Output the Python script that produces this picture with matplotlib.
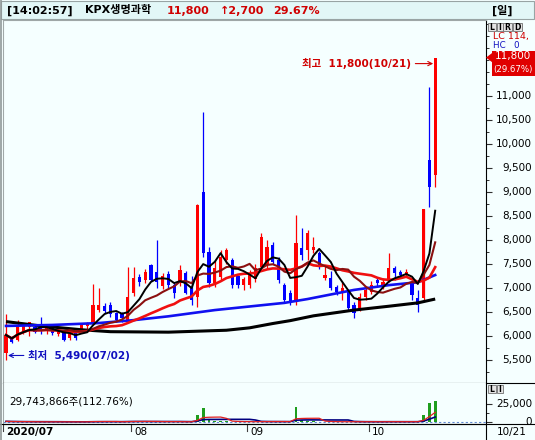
import numpy as np
import pandas as pd
import matplotlib
matplotlib.use("Agg")
import matplotlib.pyplot as plt
from matplotlib.patches import Rectangle, Polygon
from matplotlib.lines import Line2D
from matplotlib.transforms import offset_copy, blended_transform_factory

W, H = 535, 440   # 출력 크기 (px)

# ---------------------- 데이터 (일봉 2020/07/02 ~ 10/21) ----------------------
month_labels = ["2020/07", "08", "09", "10"]
month_start = [0, 22, 42, 63]          # 각 월 첫 거래일 인덱스
stock_name = "KPX생명과학"
clock = "[14:02:57]"
date_hi = "10/21"
date_lo = "07/02"
last_date = "10/21"

opens = [5650, 5960, 5920, 6090, 6190, 6190, 6200, 6100, 6190, 6040, 6090, 5950, 6080, 6120, 6200, 6270, 6550, 6620, 6650, 6470, 6470, 6330,
         6900, 7230, 7170, 7480, 7330, 7050, 7300, 7060, 7100, 7310, 7000, 6810, 9000, 7750, 7100, 7230, 7580, 7580, 7240, 7060,
         7060, 7180, 7440, 7480, 7900, 7580, 7060, 6890, 6720, 7830, 7790, 7790, 7730, 7210, 7210, 7030, 6920, 6920, 6650, 6580, 6820,
         6920, 7170, 7020, 7170, 7410, 7340, 7270, 7100, 6790, 6800, 9670, 9350]
highs = [6450, 6000, 6330, 6260, 6300, 6220, 6400, 6220, 6230, 6150, 6120, 6080, 6100, 6260, 6300, 7080, 7000, 6680, 6700, 6500, 6500, 7440,
         7430, 7300, 7400, 7500, 8000, 7310, 7350, 7100, 7480, 7350, 7250, 8750, 10670, 7850, 7580, 7790, 7830, 7620, 7260, 7220,
         7380, 7500, 8150, 8000, 7950, 7650, 7100, 6950, 8520, 8250, 8210, 8070, 7770, 7480, 7350, 7070, 7130, 6960, 6700, 6900, 7000,
         7150, 7230, 7200, 7730, 7450, 7380, 7400, 7150, 6960, 8650, 11190, 11800]
lows = [5490, 5850, 5900, 6050, 5990, 6060, 6040, 6050, 6030, 6000, 5890, 5920, 5920, 6100, 6150, 6230, 6500, 6480, 6400, 6300, 6300, 6300,
        6830, 7050, 7100, 7150, 7000, 6980, 7000, 6800, 7050, 6870, 6650, 6600, 7650, 7030, 7030, 7170, 7500, 7000, 7000, 6960,
        7000, 7120, 7400, 7420, 7500, 7100, 6680, 6650, 6650, 7580, 7580, 7720, 7400, 7170, 6960, 6850, 6750, 6540, 6370, 6520, 6750,
        6880, 7050, 6980, 7130, 7170, 7210, 7230, 6750, 6500, 6750, 8680, 9100]
closes = [6020, 5880, 6190, 6230, 6300, 6090, 6120, 6170, 6060, 6100, 5920, 6050, 5950, 6230, 6240, 6650, 6650, 6520, 6450, 6330, 6370, 6810,
          7200, 7130, 7330, 7170, 7130, 7250, 7060, 6900, 7380, 6900, 6750, 8730, 7730, 7100, 7420, 7650, 7800, 7060, 7060, 7180,
          7300, 7410, 8070, 7860, 7550, 7170, 6750, 6720, 7940, 7690, 8140, 7860, 7440, 7270, 7000, 6920, 6990, 6580, 6470, 6820, 6960,
          7060, 7100, 7130, 7410, 7310, 7270, 7340, 6850, 6650, 8650, 9100, 11800]
volume = [900000, 500000, 400000, 300000, 300000, 250000, 300000, 250000, 250000, 200000, 250000, 200000, 200000, 300000, 300000,
          1600000, 700000, 400000, 350000, 300000, 250000, 1400000,
          1200000, 600000, 500000, 500000, 1000000, 400000, 350000, 350000, 400000, 350000, 400000, 9700000, 19900000, 2600000,
          1200000, 900000, 700000, 600000, 400000, 350000,
          350000, 400000, 1000000, 700000, 600000, 500000, 500000, 400000, 20400000, 2800000, 1500000, 800000, 600000, 400000,
          400000, 300000, 300000, 400000, 500000, 400000, 350000,
          400000, 300000, 300000, 800000, 400000, 300000, 300000, 500000, 600000, 9700000, 26378000, 29743866]

# 장기 이동평균
ma60_idx = [0, 8, 16, 22, 28, 36, 48, 52, 60, 66, 71, 74]
ma60_val = [6210, 6230, 6270, 6330, 6410, 6540, 6690, 6770, 6960, 7060, 7120, 7270]
ma120_idx = [0, 6, 13, 18, 28, 38, 42, 46, 49, 53, 60, 66, 71, 74]
ma120_val = [6300, 6210, 6130, 6090, 6080, 6120, 6170, 6260, 6320, 6420, 6540, 6620, 6690, 6770]

price_ticks = list(range(5500, 11001, 500))

# ---------------------- 스타일 ----------------------
FONTS = ["DejaVu Sans", "Noto Sans CJK KR"]
plt.rcParams["font.family"] = FONTS
BG = "#F5FFFF"
RED = "#FF0000"
BLUE = "#0000FF"
RED_TXT = "#D00000"
BLUE_TXT = "#1010C0"


def fx(x):
    return x / W


def fy(y):
    return 1 - y / H


fig = plt.figure(figsize=(W / 100, H / 100), dpi=100)
fig.patch.set_facecolor(BG)

ax = fig.add_axes([fx(3), fy(383), (486 - 3) / W, (383 - 20) / H])
axv = fig.add_axes([fx(3), fy(424), (486 - 3) / W, (424 - 383) / H])

x = np.arange(len(closes))
o = np.array(opens)
c = np.array(closes)
col = np.where(c >= o, RED, BLUE)

# ---------------------- 캔들 ----------------------
ax.vlines(x, lows, highs, colors=col, lw=0.9, zorder=2)
ax.bar(x, c - o, bottom=o, width=0.55, color=col, linewidth=0, zorder=3)

# 이동평균선
s = pd.Series(closes)
ma5 = s.rolling(5, min_periods=1).mean()
ma10 = s.rolling(10, min_periods=1).mean()
ma20 = s.rolling(20, min_periods=1).mean()
ax.plot(ma120_idx, ma120_val, color="black", lw=2.2, zorder=4, solid_capstyle="butt")
ax.plot(ma60_idx, ma60_val, color="#1010F0", lw=1.9, zorder=4)
ax.plot(x, ma20, color="#F01010", lw=1.9, zorder=5)
ax.plot(x, ma10, color="#8B1010", lw=1.5, zorder=5)
ax.plot(x, ma5, color="black", lw=1.4, zorder=6)

ax.set_xlim(-0.52, 82.76)
ax.set_ylim(5020.8, 12583.3)
ax.set_facecolor(BG)
ax.set_xticks([])
ax.yaxis.tick_right()
ax.set_yticks(price_ticks)
ax.set_yticks(list(range(5250, 12501, 250)), minor=True)
ax.tick_params(axis="y", which="major", length=4, width=0.8, direction="out", labelright=False, color="#303030")
ax.tick_params(axis="y", which="minor", length=2.5, width=0.7, direction="out", color="#303030")
for sp in ["top", "left"]:
    ax.spines[sp].set_color("#A0A8A8")
for sp in ["right", "bottom"]:
    ax.spines[sp].set_color("black")
for sp in ax.spines.values():
    sp.set_linewidth(0.8)

trans = ax.get_yaxis_transform()
xr = (532 - 3) / 483
for v in price_ticks:
    ax.text(xr, v, f"{v:,}", transform=trans, ha="right", va="center", fontsize=7.5, color="black")

# 최고 / 최저 표시
i_hi = int(np.argmax(highs))
tr_hi = offset_copy(ax.transData, fig=fig, x=-2, y=-6, units="dots")
ax.annotate(f"최고  {highs[i_hi]:,}({date_hi})", xy=(i_hi, highs[i_hi]), xycoords=tr_hi,
            xytext=(-22, 0), textcoords="offset pixels", ha="right", va="center",
            color=RED_TXT, fontsize=7.5, fontweight="bold",
            arrowprops=dict(arrowstyle="->", color=RED_TXT, lw=0.8, shrinkA=1, shrinkB=0))
i_lo = int(np.argmin(lows))
tr_lo = offset_copy(ax.transData, fig=fig, x=2, y=5, units="dots")
ax.annotate(f"최저  {lows[i_lo]:,}({date_lo})", xy=(i_lo, lows[i_lo]), xycoords=tr_lo,
            xytext=(20, 0), textcoords="offset pixels", ha="left", va="center",
            color=BLUE_TXT, fontsize=7.5, fontweight="bold",
            arrowprops=dict(arrowstyle="->", color=BLUE_TXT, lw=0.8, shrinkA=1, shrinkB=0))

# ---------------------- 거래량 ----------------------
vol_k = np.array(volume) / 1000.0
axv.bar(x, vol_k, width=0.5, color="#1E9E1E", linewidth=0, zorder=3)
vs = pd.Series(vol_k)
axv.axhline(0, color="#6088D0", lw=0.8, ls=(0, (2, 2)), zorder=2)
axv.plot(x, vs.rolling(10, min_periods=1).mean(), color="#000080", lw=1.2, zorder=4)
axv.plot(x, vs.rolling(5, min_periods=1).mean(), color="#E02020", lw=0.9, zorder=5)
axv.set_xlim(-0.52, 82.76)
axv.set_ylim(-2778, 54167)
axv.set_facecolor(BG)
axv.set_xticks([])
axv.yaxis.tick_right()
axv.set_yticks([0, 25000])
axv.set_yticks([12500], minor=True)
axv.tick_params(axis="y", which="major", length=4, width=0.8, direction="out", labelright=False, color="#303030")
axv.tick_params(axis="y", which="minor", length=2.5, width=0.7, direction="out", color="#303030")
axv.spines["top"].set_visible(False)
axv.spines["left"].set_color("#A0A8A8")
for sp in ["right", "bottom"]:
    axv.spines[sp].set_color("black")
for sp in axv.spines.values():
    sp.set_linewidth(0.8)
tv = axv.get_yaxis_transform()
axv.text(xr, 25000, "25,000", transform=tv, ha="right", va="center", fontsize=7.5)
axv.text(xr, 0, "0", transform=tv, ha="right", va="center", fontsize=7.5)

ratio = volume[-1] / volume[-2] * 100
axv.text(6 / 483, 0.56, f"{volume[-1]:,}주({ratio:.2f}%)", transform=axv.transAxes,
         ha="left", va="center", fontsize=7.5)

# 날짜 축
tr_d = blended_transform_factory(axv.transData, axv.transAxes)
tr_dl = offset_copy(tr_d, fig=fig, x=3, units="dots")
for m, lab in zip(month_start, month_labels):
    axv.add_line(Line2D([m - 0.45, m - 0.45], [0, -7 / 41], transform=tr_d, clip_on=False,
                        color="#404040", lw=0.8))
    axv.text(m - 0.45, -8 / 41, lab, transform=tr_dl, ha="left", va="center", fontsize=7.5,
             fontweight="bold" if m == 0 else "normal")
fig.text(fx(497), fy(432), last_date, ha="left", va="center", fontsize=7.5)

# 구분선
fig.add_artist(Line2D([fx(486), fx(535)], [fy(383), fy(383)], color="black", lw=0.8))
fig.add_artist(Line2D([fx(0), fx(535)], [fy(424), fy(424)], color="black", lw=0.8))
fig.add_artist(Line2D([fx(486), fx(486)], [fy(424), fy(440)], color="black", lw=0.8))
fig.add_artist(Line2D([fx(1), fx(1)], [fy(0), fy(440)], color="#909898", lw=1.2))

# ---------------------- 상단 타이틀 ----------------------
fig.add_artist(Rectangle((fx(1), fy(19.5)), 533 / W, 18.5 / H, transform=fig.transFigure,
                         fc="#E2F7F7", ec="#98A4A4", lw=0.8))
chg = closes[-1] - closes[-2]
pct = chg / closes[-2] * 100
ty = fy(10.5)
fig.text(fx(7), ty, clock, fontsize=8, fontweight="bold", va="center")
fig.text(fx(85), ty, stock_name, fontsize=8, fontweight="bold", va="center")
fig.text(fx(167), ty, f"{closes[-1]:,}", fontsize=8, fontweight="bold", va="center", color=RED_TXT)
fig.text(fx(220), ty, f"↑{chg:,}", fontsize=8, fontweight="bold", va="center", color=RED_TXT)
fig.text(fx(273), ty, f"{pct:.2f}%", fontsize=8, fontweight="bold", va="center", color=RED_TXT)
fig.text(fx(492), ty, "[일]", fontsize=8, fontweight="bold", va="center")


# 작은 아이콘 박스 (L I R D)
def icon_row(x0, y0, letters, widths):
    xx = x0
    for ch, w in zip(letters, widths):
        fig.add_artist(Rectangle((fx(xx), fy(y0 + 8)), w / W, 8 / H, transform=fig.transFigure,
                                 fc="#E4E4E4", ec="#707070", lw=0.6))
        fig.text(fx(xx + w / 2), fy(y0 + 4), ch, ha="center", va="center", fontsize=5.5,
                 fontweight="bold")
        xx += w + 0.5


icon_row(488, 23, "LIRD", [8, 6, 9, 9])
icon_row(488, 385, "LI", [8, 6])

# 우측 현재가 박스
fig.text(fx(493), fy(37), "LC 114,", fontsize=6.8, color=RED_TXT, va="center")
fig.text(fx(493), fy(45.5), "HC   0", fontsize=6.3, color=BLUE_TXT, va="center")
y_last = H - ax.transData.transform((0, closes[-1]))[1]
fig.add_artist(Polygon([(fx(486), fy(y_last)), (fx(492), fy(y_last - 4.5)), (fx(492), fy(y_last + 4.5))],
                       closed=True, transform=fig.transFigure, fc="#E00000", ec="none"))
fig.add_artist(Rectangle((fx(492), fy(y_last + 18.4)), 43 / W, 25 / H, transform=fig.transFigure,
                         fc="#E00000", ec="none"))
fig.text(fx(495), fy(y_last - 1.5), f"{closes[-1]:,}", fontsize=7.5, color="white", va="center")
fig.text(fx(493), fy(y_last + 12.3), f"({pct:.2f}%)", fontsize=6.2, color="white", va="center")

fig.savefig("out.png", dpi=100, facecolor=fig.get_facecolor())
